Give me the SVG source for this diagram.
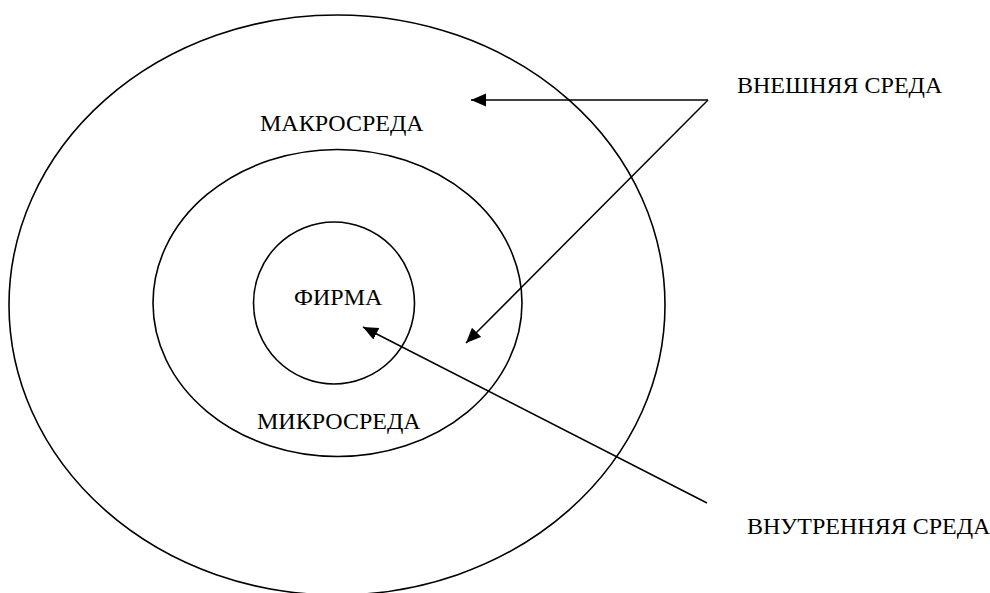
<svg xmlns="http://www.w3.org/2000/svg" width="990" height="593" viewBox="0 0 990 593">
<style>
.shape{fill:none;stroke:#000;stroke-width:1.6}
.conn{fill:none;stroke:#000;stroke-width:1.5}
.lbl{font-family:"Liberation Serif","Times New Roman",serif;font-size:24px;fill:#000}
</style>
<defs>
<marker id="arr" markerUnits="userSpaceOnUse" markerWidth="16" markerHeight="14" refX="15" refY="6.5" orient="auto">
<path d="M0,0 L15,6.5 L0,13 z" fill="#000"/>
</marker>
</defs>
<rect width="990" height="593" fill="#fff"/>
<g id="macro">
<ellipse class="shape" cx="337" cy="305" rx="328" ry="290"/>
<text class="lbl" x="260" y="131">МАКРОСРЕДА</text>
</g>
<g id="micro">
<ellipse class="shape" cx="337.5" cy="303" rx="184.5" ry="153.5"/>
<text class="lbl" x="257" y="429">МИКРОСРЕДА</text>
</g>
<g id="firm">
<ellipse class="shape" cx="334" cy="303" rx="80.5" ry="81"/>
<text class="lbl" x="294" y="305">ФИРМА</text>
</g>
<g id="external">
<text class="lbl" x="737" y="93">ВНЕШНЯЯ СРЕДА</text>
</g>
<g id="internal">
<text class="lbl" x="747" y="534">ВНУТРЕННЯЯ СРЕДА</text>
</g>
<g id="connectors">
<line class="conn" x1="708" y1="100" x2="471" y2="100" marker-end="url(#arr)"/>
<line class="conn" x1="708" y1="100" x2="466" y2="343" marker-end="url(#arr)"/>
<line class="conn" x1="707" y1="503" x2="363" y2="327" marker-end="url(#arr)"/>
</g>
</svg>
